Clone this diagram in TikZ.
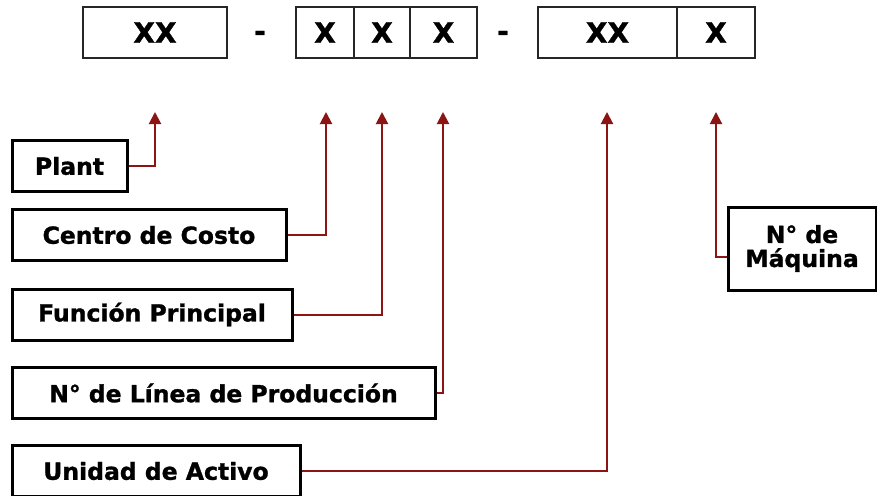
\documentclass[tikz,border=0pt]{standalone}
\usepackage{fontspec}
\setmainfont{DejaVu Sans}[BoldFeatures={FakeBold=1.2}]
\usetikzlibrary{arrows.meta}
\definecolor{conncol}{RGB}{140,20,20}
\begin{document}
\begin{tikzpicture}[x=1pt,y=-1pt,
  cell/.style={draw=black!85,line width=1.5pt,minimum height=51pt,inner sep=0pt,
    font=\fontsize{28}{30}\selectfont\bfseries},
  lbl/.style={draw=black,line width=3pt,minimum height=51pt,inner sep=0pt,
    font=\fontsize{23.5}{26}\selectfont\bfseries,align=center},
  conn/.style={draw=conncol,line width=2pt,-{Triangle[width=12pt,length=12pt]}},
  dashtxt/.style={font=\fontsize{28}{30}\selectfont\bfseries,inner sep=0pt}]
\clip (0,0) rectangle (877,495);
\fill[white] (0,0) rectangle (877,495);
% top code boxes
\node[cell,minimum width=144pt] (c1) at (155,32.5) {XX};
\node[cell,minimum width=58pt] (c2) at (325,32.5) {X};
\node[cell,minimum width=56pt] (c3) at (382,32.5) {X};
\node[cell,minimum width=67pt] (c4) at (443.5,32.5) {X};
\node[cell,minimum width=139pt] (c5) at (607.5,32.5) {XX};
\node[cell,minimum width=78pt] (c6) at (716,32.5) {X};
\node[dashtxt] (d1) at (260,36) {-};
\node[dashtxt] (d2) at (503,36) {-};
% arrow tips
\coordinate (t1) at (155,112);
\coordinate (t2) at (326,112);
\coordinate (t3) at (382,112);
\coordinate (t4) at (443,112);
\coordinate (t5) at (607,112);
\coordinate (t6) at (716,112);
% label boxes
\node[lbl,minimum width=115pt] (plant) at (69.5,166) {Plant};
\node[lbl,minimum width=274pt] (centro) at (149,235) {Centro de Costo};
\node[lbl,minimum width=280pt] (funcion) at (152,314.5) {Función Principal};
\node[lbl,minimum width=423pt] (linea) at (223.5,393) {N° de Línea de Producción};
\node[lbl,minimum width=288pt] (unidad) at (156,471) {Unidad de Activo};
\node[lbl,minimum width=148pt,minimum height=83pt] (maq) at (802,248.5) {N° de\\[-2pt]Máquina};
% connectors
\draw[conn] (plant.east) -| (t1);
\draw[conn] (centro.east) -| (t2);
\draw[conn] (funcion.east) -| (t3);
\draw[conn] (linea.east) -| (t4);
\draw[conn] (unidad.east) -| (t5);
\draw[conn] ([yshift=-8.5pt]maq.west) -| (t6);
\end{tikzpicture}
\end{document}
